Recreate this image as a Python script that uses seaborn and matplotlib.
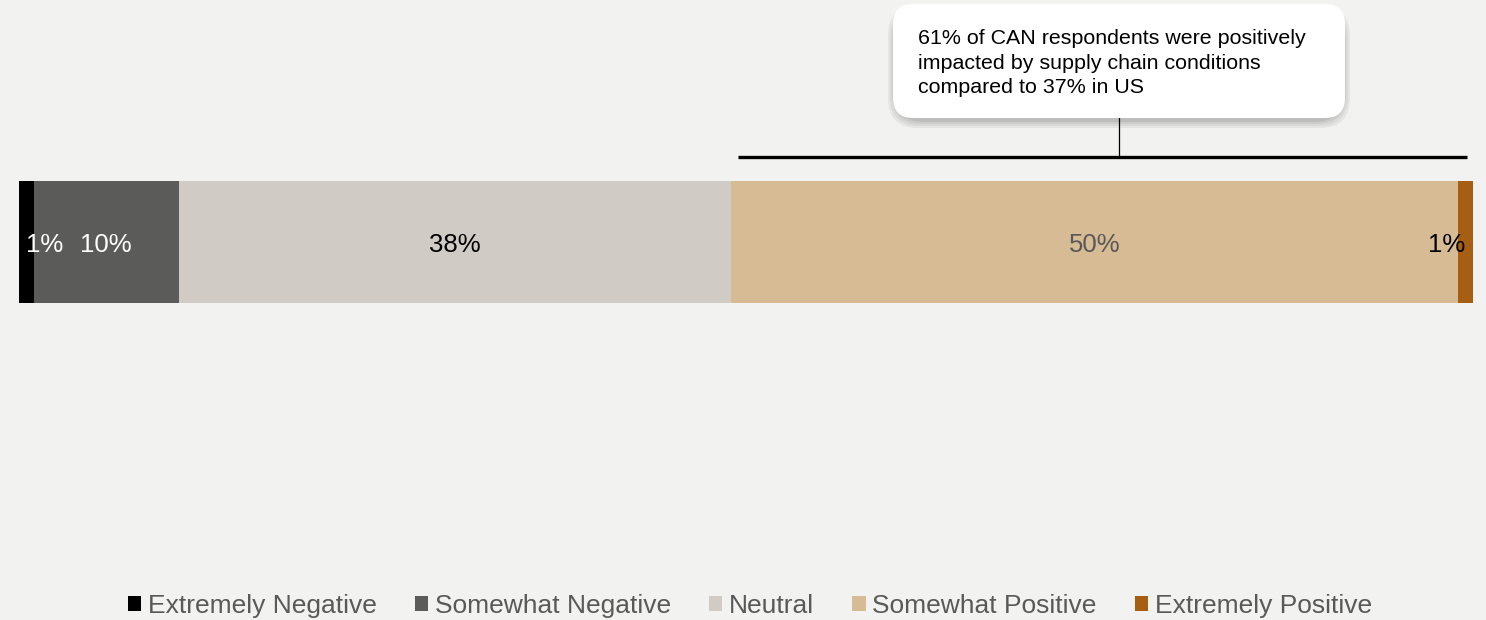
import matplotlib
matplotlib.use("Agg")
import matplotlib.pyplot as plt
from matplotlib.patches import Patch, FancyBboxPatch
import seaborn as sns
import pandas as pd
import numpy as np

# Response shares for the single country bar
categories = ["Extremely Negative", "Somewhat Negative", "Neutral",
              "Somewhat Positive", "Extremely Positive"]
values = [1, 10, 38, 50, 1]
value_labels = ["1%", "10%", "38%", "50%", "1%"]
colors = ["#000000", "#5B5B5A", "#D0CBC5", "#D7BB94", "#A65E12"]
label_colors = ["white", "white", "black", "#595959", "black"]
callout = ("61% of CAN respondents were positively\n"
           "impacted by supply chain conditions\n"
           "compared to 37% in US")
positive_share = values[3] + values[4]

BG = "#F2F2F0"
W, H = 1486, 620

sns.set_theme(style="white")
plt.rcParams["font.family"] = ["Liberation Sans", "DejaVu Sans"]

fig = plt.figure(figsize=(W / 100, H / 100), dpi=100, facecolor=BG)


def fx(px):
    return px / W


def fy(py):
    return 1 - py / H


# Axes spans exactly the bar area
ax = fig.add_axes([fx(19), fy(303), fx(1473) - fx(19), fy(181) - fy(303)])
ax.set_facecolor(BG)

cum = np.cumsum(values)
starts = cum - np.array(values)
df = pd.DataFrame({"group": ["CAN"] * len(values),
                   "category": categories,
                   "cum": cum})

# Stacked bar drawn as overlapping cumulative bars, longest first
for i in reversed(range(len(values))):
    sns.barplot(data=df.iloc[[i]], x="cum", y="group", orient="h",
                color=colors[i], saturation=1, width=0.8,
                edgecolor="none", linewidth=0, ax=ax)

ax.set_xlim(0, 100)
ax.set_ylim(0.4, -0.4)
ax.axis("off")

# Segment labels
for i, (s, v) in enumerate(zip(starts, values)):
    centre = s + v / 2
    if i == 0:
        ha = "left"
    elif i == len(values) - 1:
        ha = "right"
    else:
        ha = "center"
    ax.text(centre, 0.02, value_labels[i], ha=ha, va="center",
            fontsize=18.5, color=label_colors[i])

# Bracket over the positive responses
neg_neu = 100 - positive_share
bx0 = neg_neu + 0.45
bx1 = 99.6
ax.plot([bx0, bx1], [-0.557, -0.557], color="black", lw=2.4,
        clip_on=False, solid_capstyle="butt")
box_cx = fx((893 + 1345) / 2)
xc_data = (box_cx * W - 19) / (1473 - 19) * 100
ax.plot([xc_data, xc_data], [-0.557, -0.813], color="black", lw=0.9,
        clip_on=False)

# Callout box with soft shadow
bx, by, bw, bh = 893, 4, 452, 114
for k, a in enumerate([0.05, 0.05, 0.06, 0.07]):
    grow = 7 - 2 * k
    sh = FancyBboxPatch((fx(bx - grow + 2), fy(by + bh + grow - 1 + 4)),
                        fx(bw + 2 * grow - 4), (bh + 2 * grow - 6) / H,
                        boxstyle="round,pad=0,rounding_size=0.02",
                        transform=fig.transFigure, facecolor="black",
                        edgecolor="none", alpha=a, mutation_aspect=W / H)
    fig.patches.append(sh)
box = FancyBboxPatch((fx(bx), fy(by + bh)), fx(bw), bh / H,
                     boxstyle="round,pad=0,rounding_size=0.0135",
                     transform=fig.transFigure, facecolor="white",
                     edgecolor="none", mutation_aspect=W / H)
fig.patches.append(box)
fig.text(fx(918), fy(29), callout, ha="left", va="top", fontsize=15.4,
         color="black", linespacing=1.38)

# Legend
handles = [Patch(facecolor=c, edgecolor="none") for c in colors]
fig.legend(handles, categories, loc="center",
           bbox_to_anchor=(fx(750), fy(606)), ncol=5, frameon=False,
           fontsize=19, labelcolor="#595959", handlelength=0.5,
           handleheight=0.5, handletextpad=0.25, columnspacing=1.45,
           borderaxespad=0)

fig.savefig("out.png", dpi=100, facecolor=BG)
